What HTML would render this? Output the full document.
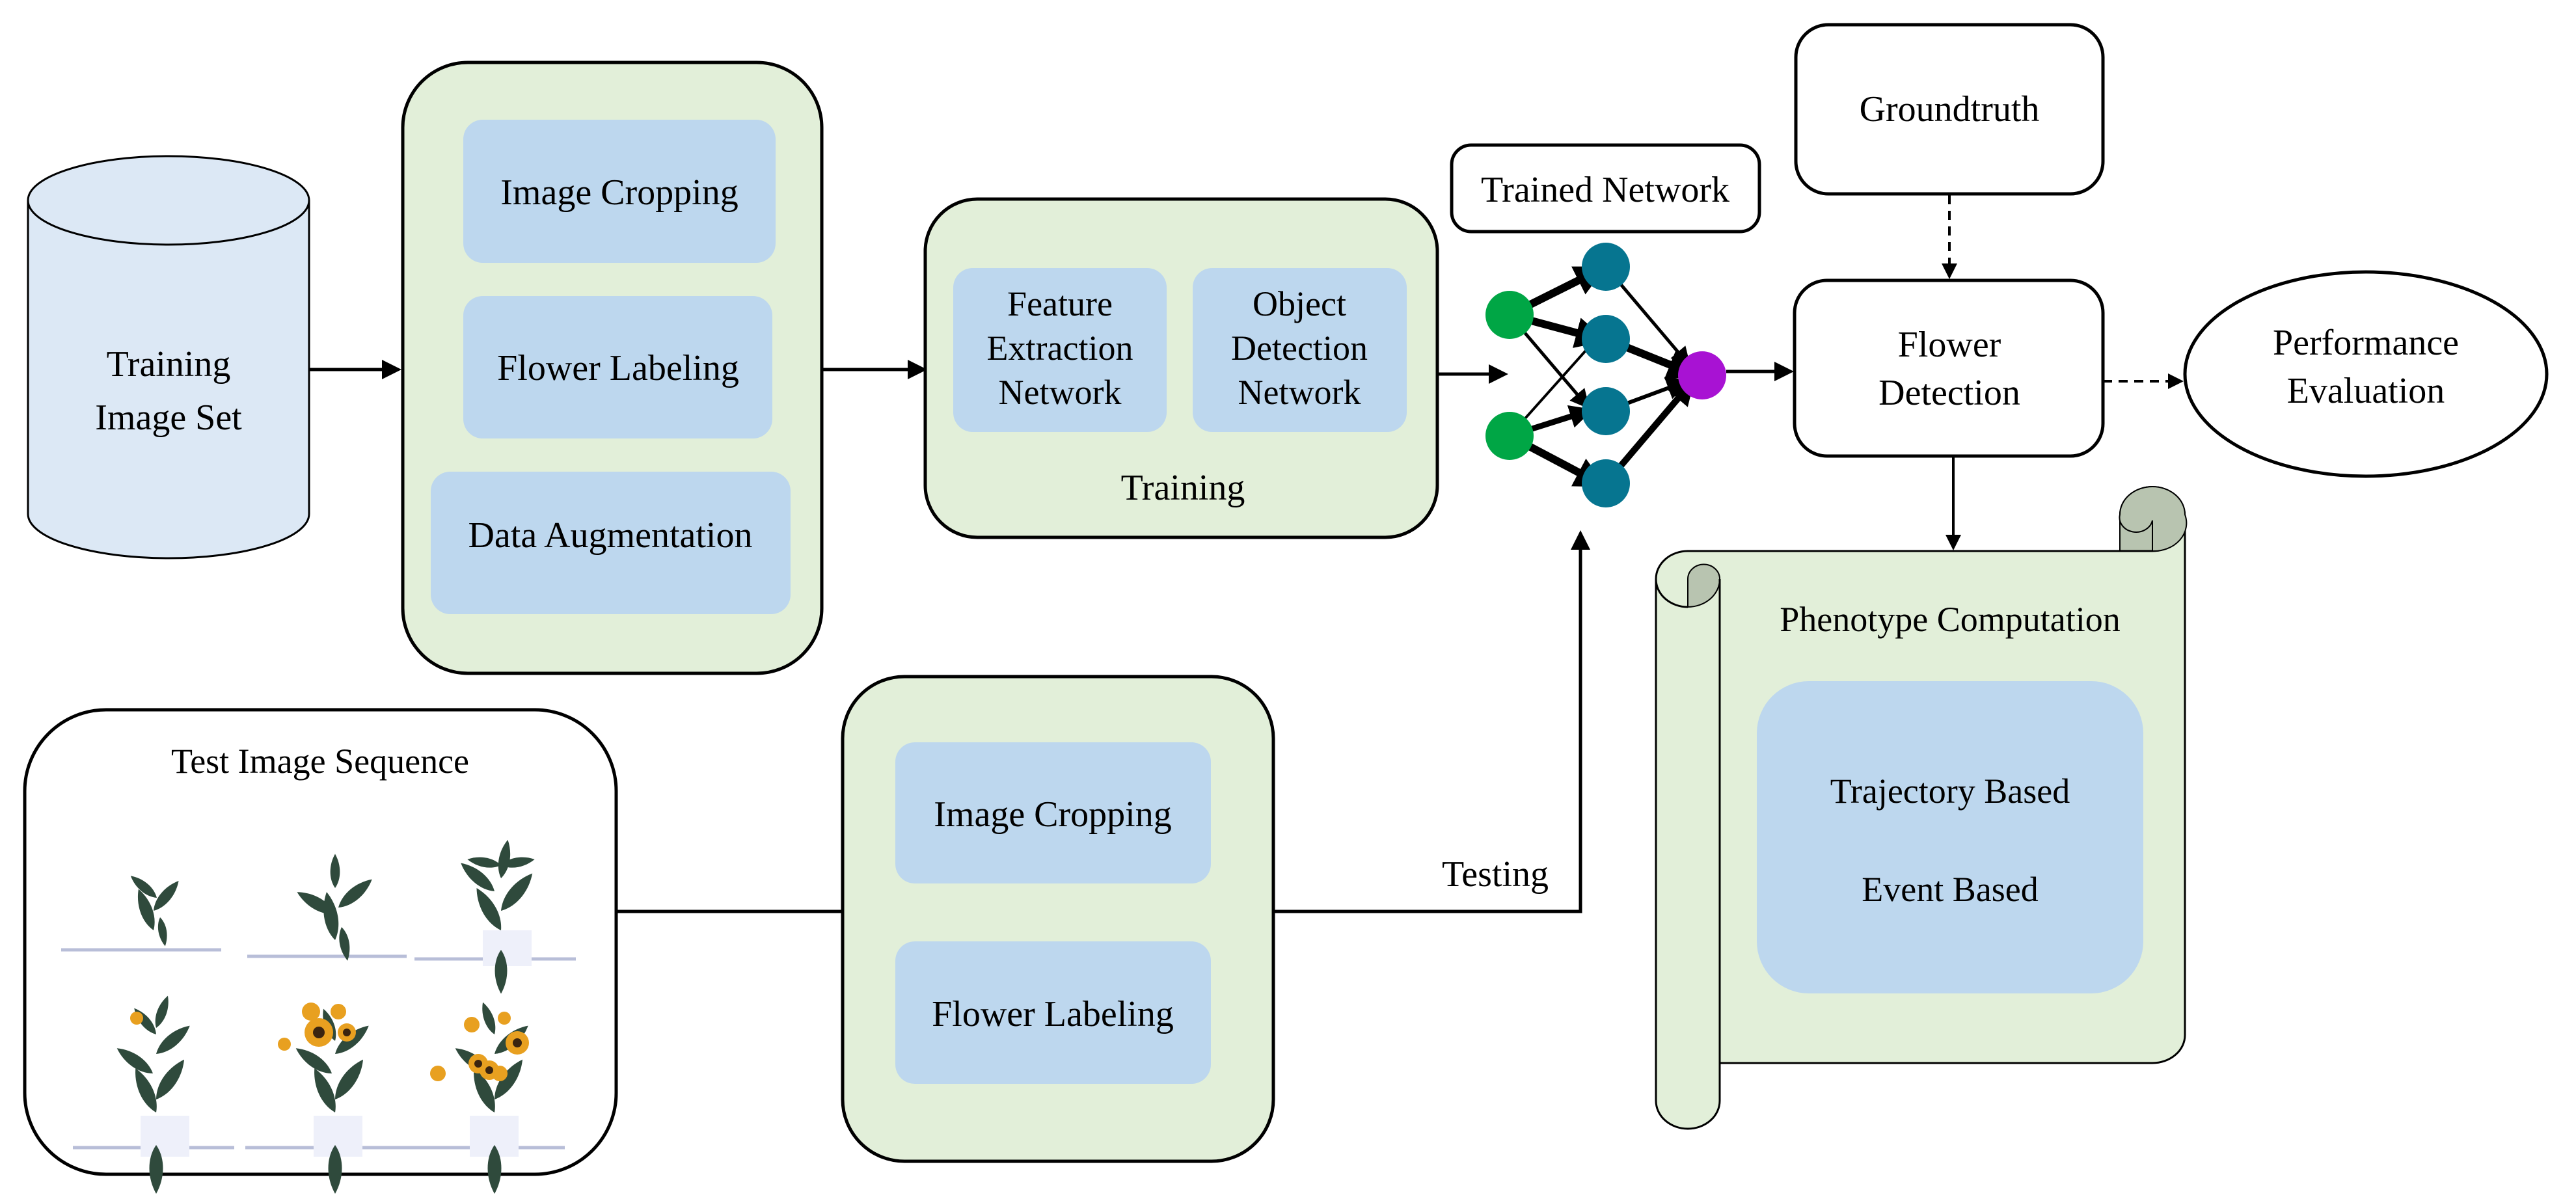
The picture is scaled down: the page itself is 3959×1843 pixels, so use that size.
<!DOCTYPE html>
<html><head><meta charset="utf-8"><style>
html,body{margin:0;padding:0;background:#fff;}
svg{display:block;}
svg text{font-family:"Liberation Serif","Times New Roman",Times,"Nimbus Roman","DejaVu Serif",serif;}
</style></head><body>
<svg width="3959" height="1843" viewBox="0 0 3959 1843" xmlns="http://www.w3.org/2000/svg">
<defs>
<marker id="ah" markerWidth="6" markerHeight="6" refX="5" refY="3" orient="auto" markerUnits="strokeWidth">
<path d="M0,0 L6,3 L0,6 Z" fill="#000"/></marker>
<marker id="ah2" markerWidth="4" markerHeight="4" refX="3" refY="2" orient="auto" markerUnits="strokeWidth">
<path d="M0,0 L4,2 L0,4 Z" fill="#000"/></marker>
<g id="leaf"><path d="M0,0 C14,-20 14,-50 0,-75 C-14,-50 -14,-20 0,0 Z" fill="#2f4a3c"/></g>
</defs>

<path d="M43,308 L43,790 A216,68 0 0 0 475,790 L475,308" fill="#dce8f5" stroke="#000" stroke-width="3"/>
<ellipse cx="259" cy="308" rx="216" ry="68" fill="#dce8f5" stroke="#000" stroke-width="3"/>
<text x="259" y="578" font-size="56" text-anchor="middle">Training</text>
<text x="259" y="660" font-size="56" text-anchor="middle">Image Set</text>

<line x1="475" y1="568" x2="612" y2="568" stroke="#000" stroke-width="5" marker-end="url(#ah)"/>
<line x1="1263" y1="568" x2="1420" y2="568" stroke="#000" stroke-width="5" marker-end="url(#ah)"/>
<line x1="2209" y1="575" x2="2313" y2="575" stroke="#000" stroke-width="5" marker-end="url(#ah)"/>

<rect x="619" y="96" width="644" height="939" rx="100" fill="#e2efd9" stroke="#000" stroke-width="5"/>
<rect x="712" y="184" width="480" height="220" rx="30" fill="#bdd7ee"/>
<text x="952" y="314" font-size="56" text-anchor="middle">Image Cropping</text>
<rect x="712" y="455" width="475" height="219" rx="30" fill="#bdd7ee"/>
<text x="950" y="584" font-size="56" text-anchor="middle">Flower Labeling</text>
<rect x="662" y="725" width="553" height="219" rx="30" fill="#bdd7ee"/>
<text x="938" y="841" font-size="56" text-anchor="middle">Data Augmentation</text>

<rect x="1422" y="306" width="787" height="520" rx="80" fill="#e2efd9" stroke="#000" stroke-width="5"/>
<rect x="1465" y="412" width="328" height="252" rx="30" fill="#bdd7ee"/>
<text x="1629" y="485" font-size="54" text-anchor="middle">Feature</text>
<text x="1629" y="553" font-size="54" text-anchor="middle">Extraction</text>
<text x="1629" y="621" font-size="54" text-anchor="middle">Network</text>
<rect x="1833" y="412" width="329" height="252" rx="30" fill="#bdd7ee"/>
<text x="1997" y="485" font-size="54" text-anchor="middle">Object</text>
<text x="1997" y="553" font-size="54" text-anchor="middle">Detection</text>
<text x="1997" y="621" font-size="54" text-anchor="middle">Network</text>
<text x="1818" y="768" font-size="56" text-anchor="middle">Training</text>

<rect x="2231" y="223" width="473" height="133" rx="30" fill="#fff" stroke="#000" stroke-width="5"/>
<text x="2467" y="310" font-size="56" text-anchor="middle">Trained Network</text>

<g stroke="#000">
<line x1="2320" y1="484" x2="2458" y2="415" stroke-width="12" marker-end="url(#ah2)"/>
<line x1="2320" y1="484" x2="2458" y2="521" stroke-width="12" marker-end="url(#ah2)"/>
<line x1="2320" y1="484" x2="2440" y2="625" stroke-width="5" marker-end="url(#ah)"/>
<line x1="2320" y1="670" x2="2445" y2="530" stroke-width="4"/>
<line x1="2320" y1="670" x2="2440" y2="632" stroke-width="9" marker-end="url(#ah2)"/>
<line x1="2320" y1="670" x2="2458" y2="743" stroke-width="12" marker-end="url(#ah2)"/>
<line x1="2468" y1="410" x2="2595" y2="560" stroke-width="5" marker-end="url(#ah)"/>
<line x1="2468" y1="521" x2="2600" y2="574" stroke-width="12" marker-end="url(#ah2)"/>
<line x1="2468" y1="632" x2="2592" y2="586" stroke-width="6" marker-end="url(#ah)"/>
<line x1="2468" y1="743" x2="2598" y2="590" stroke-width="10" marker-end="url(#ah2)"/>
</g>
<circle cx="2320" cy="484" r="37" fill="#00a645"/>
<circle cx="2320" cy="670" r="37" fill="#00a645"/>
<circle cx="2468" cy="410" r="37" fill="#067590"/>
<circle cx="2468" cy="521" r="37" fill="#067590"/>
<circle cx="2468" cy="632" r="37" fill="#067590"/>
<circle cx="2468" cy="743" r="37" fill="#067590"/>
<circle cx="2616" cy="577" r="37" fill="#a812d3"/>
<line x1="2653" y1="571" x2="2752" y2="571" stroke="#000" stroke-width="5" marker-end="url(#ah)"/>

<rect x="2760" y="38" width="472" height="260" rx="50" fill="#fff" stroke="#000" stroke-width="5"/>
<text x="2996" y="186" font-size="56" text-anchor="middle">Groundtruth</text>
<line x1="2996" y1="300" x2="2996" y2="425" stroke="#000" stroke-width="4" stroke-dasharray="14,10" marker-end="url(#ah)"/>

<rect x="2758" y="431" width="474" height="270" rx="50" fill="#fff" stroke="#000" stroke-width="5"/>
<text x="2996" y="548" font-size="56" text-anchor="middle">Flower</text>
<text x="2996" y="622" font-size="56" text-anchor="middle">Detection</text>
<line x1="3232" y1="586" x2="3352" y2="586" stroke="#000" stroke-width="4" stroke-dasharray="14,10" marker-end="url(#ah)"/>
<line x1="3002" y1="701" x2="3002" y2="842" stroke="#000" stroke-width="4" marker-end="url(#ah)"/>

<ellipse cx="3636" cy="575" rx="278" ry="157" fill="#fff" stroke="#000" stroke-width="5"/>
<text x="3636" y="545" font-size="56" text-anchor="middle">Performance</text>
<text x="3636" y="619" font-size="56" text-anchor="middle">Evaluation</text>

<!-- Scroll -->
<path d="M3258,847 L3258,791 A50,43 0 0 1 3358,791 L3358,847 Z" fill="#b8c4b0" stroke="#000" stroke-width="2"/>
<path d="M2545,890 A49,43 0 0 1 2594,847 L3308,847 A50,43 0 0 0 3358,804 L3358,1591 A50,43 0 0 1 3308,1634 L2643,1634 L2643,1692 A49,43 0 0 1 2545,1692 Z" fill="#e2efd9" stroke="#000" stroke-width="3"/>
<path d="M3258,791 A50,43 0 0 1 3358,791 A50,43 0 0 1 3308,847 L3308,800 A25,22 0 0 1 3258,791 Z" fill="#b8c4b0" stroke="#000" stroke-width="2"/>
<path d="M2594,933 L2594,890 A24,22 0 0 1 2643,890 A49,43 0 0 1 2594,933 Z" fill="#b8c4b0" stroke="#000" stroke-width="2"/>
<line x1="2643" y1="890" x2="2643" y2="1634" stroke="#000" stroke-width="3"/>
<path d="M2545,890 A49,43 0 0 0 2594,933" fill="none" stroke="#000" stroke-width="3"/>
<text x="2997" y="970" font-size="54" text-anchor="middle">Phenotype Computation</text>
<rect x="2700" y="1047" width="594" height="480" rx="80" fill="#bdd7ee"/>
<text x="2997" y="1234" font-size="54" text-anchor="middle">Trajectory Based</text>
<text x="2997" y="1385" font-size="54" text-anchor="middle">Event Based</text>

<rect x="38" y="1091" width="909" height="714" rx="125" fill="#fff" stroke="#000" stroke-width="5"/>
<text x="492" y="1188" font-size="54" text-anchor="middle">Test Image Sequence</text>
<g stroke="#b8bed8" stroke-width="5">
<line x1="94" y1="1460" x2="340" y2="1460"/>
<line x1="380" y1="1470" x2="625" y2="1470"/>
<line x1="637" y1="1474" x2="885" y2="1474"/>
<line x1="112" y1="1764" x2="360" y2="1764"/>
<line x1="377" y1="1764" x2="868" y2="1764"/>
</g>
<g fill="#eef0fa">
<rect x="742" y="1430" width="75" height="55"/>
<rect x="216" y="1715" width="75" height="63"/>
<rect x="482" y="1715" width="75" height="63"/>
<rect x="722" y="1715" width="75" height="63"/>
</g>
<g>
<g transform="translate(236,1430)"><use href="#leaf" transform="rotate(-20) scale(0.9)"/><use href="#leaf" transform="translate(0,-30) rotate(40) scale(0.8)"/><use href="#leaf" transform="translate(5,-50) rotate(-50) scale(0.7)"/><use href="#leaf" transform="translate(10,-20) rotate(170) scale(0.6)"/></g>
<g transform="translate(515,1445)"><use href="#leaf" transform="rotate(-10)"/><use href="#leaf" transform="translate(0,-40) rotate(-60) scale(0.9)"/><use href="#leaf" transform="translate(5,-50) rotate(50) scale(0.9)"/><use href="#leaf" transform="translate(0,-80) rotate(0) scale(0.7)"/><use href="#leaf" transform="translate(10,-20) rotate(170) scale(0.7)"/></g>
<g transform="translate(770,1460)"><use href="#leaf" transform="rotate(180) scale(0.9)"/><use href="#leaf" transform="translate(0,-30) rotate(-30)"/><use href="#leaf" transform="translate(0,-60) rotate(40)"/><use href="#leaf" transform="translate(-10,-90) rotate(-50) scale(0.9)"/><use href="#leaf" transform="translate(0,-110) rotate(10) scale(0.8)"/><use href="#leaf" transform="translate(0,-130) rotate(-80) scale(0.7)"/><use href="#leaf" transform="translate(0,-130) rotate(80) scale(0.7)"/></g>
<g transform="translate(240,1760)"><use href="#leaf" transform="rotate(180)"/><use href="#leaf" transform="translate(0,-50) rotate(-25)"/><use href="#leaf" transform="translate(0,-70) rotate(35)"/><use href="#leaf" transform="translate(-5,-110) rotate(-55) scale(0.9)"/><use href="#leaf" transform="translate(0,-140) rotate(50) scale(0.9)"/><use href="#leaf" transform="translate(0,-170) rotate(-40) scale(0.7)"/><use href="#leaf" transform="translate(0,-180) rotate(20) scale(0.7)"/></g>
<g transform="translate(515,1760)"><use href="#leaf" transform="rotate(180)"/><use href="#leaf" transform="translate(0,-50) rotate(-25)"/><use href="#leaf" transform="translate(0,-70) rotate(35)"/><use href="#leaf" transform="translate(-5,-110) rotate(-55) scale(0.9)"/><use href="#leaf" transform="translate(0,-140) rotate(50) scale(0.9)"/><use href="#leaf" transform="translate(0,-160) rotate(-20) scale(0.7)"/></g>
<g transform="translate(760,1760)"><use href="#leaf" transform="rotate(180)"/><use href="#leaf" transform="translate(0,-50) rotate(-25)"/><use href="#leaf" transform="translate(0,-70) rotate(35)"/><use href="#leaf" transform="translate(-5,-110) rotate(-55) scale(0.9)"/><use href="#leaf" transform="translate(0,-140) rotate(50) scale(0.9)"/><use href="#leaf" transform="translate(0,-170) rotate(-20) scale(0.7)"/></g>
</g>
<g fill="#e8a020">
<circle cx="210" cy="1565" r="10"/>
<circle cx="490" cy="1587" r="22"/><circle cx="533" cy="1587" r="14"/><circle cx="478" cy="1555" r="14"/><circle cx="520" cy="1555" r="12"/><circle cx="437" cy="1605" r="10"/>
<circle cx="795" cy="1603" r="18"/><circle cx="735" cy="1635" r="15"/><circle cx="752" cy="1645" r="15"/><circle cx="768" cy="1650" r="12"/><circle cx="673" cy="1650" r="12"/><circle cx="725" cy="1575" r="12"/><circle cx="775" cy="1565" r="10"/>
</g>
<g fill="#3a2410">
<circle cx="490" cy="1587" r="9"/><circle cx="533" cy="1587" r="6"/><circle cx="795" cy="1603" r="7"/><circle cx="752" cy="1645" r="6"/><circle cx="735" cy="1635" r="6"/>
</g>

<line x1="947" y1="1401" x2="1295" y2="1401" stroke="#000" stroke-width="5"/>

<rect x="1295" y="1040" width="662" height="745" rx="95" fill="#e2efd9" stroke="#000" stroke-width="5"/>
<rect x="1376" y="1141" width="485" height="217" rx="30" fill="#bdd7ee"/>
<text x="1618" y="1270" font-size="56" text-anchor="middle">Image Cropping</text>
<rect x="1376" y="1447" width="485" height="219" rx="30" fill="#bdd7ee"/>
<text x="1618" y="1577" font-size="56" text-anchor="middle">Flower Labeling</text>

<polyline points="1957,1401 2429,1401 2429,820" fill="none" stroke="#000" stroke-width="5" marker-end="url(#ah)"/>
<text x="2298" y="1362" font-size="56" text-anchor="middle">Testing</text>
</svg>
</body></html>
